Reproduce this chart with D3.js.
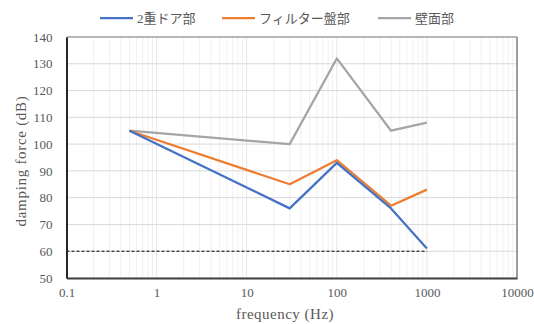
<!DOCTYPE html>
<html>
<head>
<meta charset="utf-8">
<script src="https://cdn.jsdelivr.net/npm/d3@7/dist/d3.min.js"></script>
<style>
  html, body { margin: 0; padding: 0; background: #fff; }
  svg { display: block; }
  text { font-family: "Liberation Serif", "Noto Sans CJK JP", serif; fill: #595959; }
</style>
</head>
<body>
<svg id="chart" width="534" height="324"></svg>
<script>
// Frequencies (Hz) at which damping was measured
const frequencies = [0.5, 30, 100, 400, 1000];

// Damping force (dB) per location
const seriesNames = ["2重ドア部", "フィルター盤部", "壁面部"];
const doubleDoor = [105, 76, 93, 76, 61];
const filterPanel = [105, 85, 94, 77, 83];
const wallSurface = [105, 100, 132, 105, 108];
const seriesColors = ["#4472C4", "#ED7D31", "#A5A5A5"];

// Reference level (dashed) and axis ticks
const referenceLevel = 60;
const referenceRange = [0.1, 1000];
const xTicks = [0.1, 1, 10, 100, 1000, 10000];
const xTickLabels = ["0.1", "1", "10", "100", "1000", "10000"];
const yTicks = [50, 60, 70, 80, 90, 100, 110, 120, 130, 140];

const svg = d3.select("#chart");
const margin = { left: 66.5, right: 17, top: 37, bottom: 46 };
const W = 534, H = 324;

const x = d3.scaleLog().domain([0.1, 10000]).range([margin.left, W - margin.right]);
const y = d3.scaleLinear().domain([50, 140]).range([H - margin.bottom, margin.top]);

const g = svg.append("g");

// Minor vertical gridlines (2..9 within each decade)
const minor = [];
for (let e = -1; e < 4; e++) {
  for (let k = 2; k <= 9; k++) minor.push(k * Math.pow(10, e));
}
g.selectAll("line.minor").data(minor).enter().append("line")
  .attr("x1", d => x(d)).attr("x2", d => x(d))
  .attr("y1", y(50)).attr("y2", y(140))
  .attr("stroke", "#f0f0f0").attr("stroke-width", 1);

// Major vertical gridlines
g.selectAll("line.vmajor").data(xTicks).enter().append("line")
  .attr("x1", d => x(d)).attr("x2", d => x(d))
  .attr("y1", y(50)).attr("y2", y(140))
  .attr("stroke", "#e6e6e6").attr("stroke-width", 1);

// Horizontal gridlines
g.selectAll("line.hmajor").data(yTicks).enter().append("line")
  .attr("x1", x(0.1)).attr("x2", x(10000))
  .attr("y1", d => y(d)).attr("y2", d => y(d))
  .attr("stroke", "#d9d9d9").attr("stroke-width", 1);

// Plot frame: top and right lighter, left and bottom dark
g.append("line").attr("x1", x(0.1)).attr("x2", x(10000)).attr("y1", y(140)).attr("y2", y(140))
  .attr("stroke", "#a6a6a6").attr("stroke-width", 1.5);
g.append("line").attr("x1", x(10000)).attr("x2", x(10000)).attr("y1", y(140)).attr("y2", y(50))
  .attr("stroke", "#808080").attr("stroke-width", 1.5);

// Reference dashed line
g.append("line")
  .attr("x1", x(referenceRange[0])).attr("x2", x(referenceRange[1]))
  .attr("y1", y(referenceLevel)).attr("y2", y(referenceLevel))
  .attr("stroke", "#000").attr("stroke-width", 1)
  .attr("stroke-dasharray", "3,2");

// Series lines
const allSeries = [doubleDoor, filterPanel, wallSurface];
const line = d3.line().x((d, i) => x(frequencies[i])).y(d => y(d));
[2, 1, 0].forEach(si => {
  g.append("path")
    .attr("d", line(allSeries[si]))
    .attr("fill", "none")
    .attr("stroke", seriesColors[si])
    .attr("stroke-width", 2.25)
    .attr("stroke-linejoin", "round");
});

// Axes
const xAxis = d3.axisBottom(x).tickValues(xTicks)
  .tickFormat((d, i) => xTickLabels[i]).tickSize(0).tickPadding(10);
const xg = svg.append("g").attr("transform", `translate(0,${y(50)})`).call(xAxis);
xg.select(".domain").attr("stroke", "#404040").attr("stroke-width", 2);
xg.selectAll("text").attr("font-size", 13).attr("fill", "#595959")
  .style("font-family", "'Liberation Serif', serif");

const yAxis = d3.axisLeft(y).tickValues(yTicks).tickSize(0).tickPadding(14);
const yg = svg.append("g").attr("transform", `translate(${x(0.1)},0)`).call(yAxis);
yg.select(".domain").attr("stroke", "#262626").attr("stroke-width", 2);
yg.selectAll("text").attr("font-size", 13).attr("fill", "#595959")
  .style("font-family", "'Liberation Serif', serif");

// Axis titles
svg.append("text").attr("x", 285).attr("y", 319)
  .attr("text-anchor", "middle").attr("font-size", 15)
  .attr("letter-spacing", 0.5)
  .text("frequency (Hz)");
svg.append("text")
  .attr("transform", `translate(26,161) rotate(-90)`)
  .attr("text-anchor", "middle").attr("font-size", 15)
  .attr("letter-spacing", 0.7)
  .text("damping force (dB)");

// Legend
const legendX = [100, 222, 378];
seriesNames.forEach((name, i) => {
  const lg = svg.append("g").attr("transform", `translate(${legendX[i]},18)`);
  lg.append("line").attr("x1", 0).attr("x2", 33).attr("y1", 0).attr("y2", 0)
    .attr("stroke", seriesColors[i]).attr("stroke-width", 2.25);
  lg.append("text").attr("x", 37).attr("y", 5)
    .attr("font-size", 13).attr("fill", "#595959")
    .text(name);
});
</script>
</body>
</html>
